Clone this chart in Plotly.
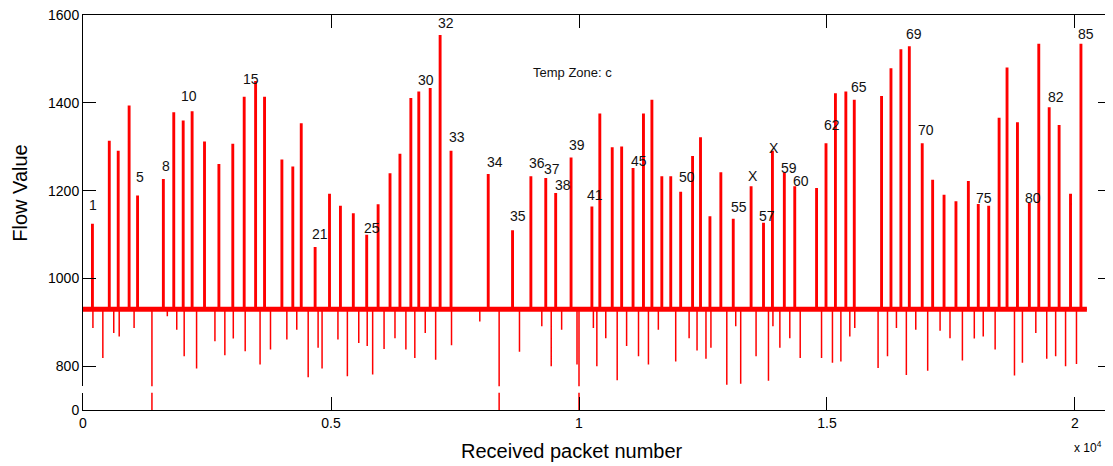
import plotly.graph_objects as go

# ---------------- data ----------------
BASE = 930          # resting flow level (noisy band centre)
X_END = 20240       # last received packet

spike_x = [190, 530, 710, 930, 1100, 1620, 1830, 2020, 2200, 2450,
           2740, 3020, 3250, 3480, 3660, 4010, 4230, 4400, 4680, 4970,
           5190, 5450, 5720, 5950, 6190, 6390, 6610, 6770, 7000, 7200,
           7420, 8170, 8660, 9030, 9330, 9530, 9840, 10260, 10420, 10670,
           10860, 11090, 11300, 11470, 11670, 11850, 12050, 12290, 12450, 12640,
           12860, 13110, 13470, 13720, 13900, 14140, 14350, 14790, 14980, 15170,
           15380, 15550, 16100, 16290, 16490, 16660, 16920, 17130, 17360, 17600,
           17850, 18050, 18260, 18470, 18630, 18840, 19080, 19270, 19480, 19680,
           19910, 20120]
spike_top = [1123, 1312, 1289, 1392, 1187, 1225, 1377, 1358, 1379, 1310,
             1259, 1305, 1412, 1448, 1412, 1269, 1253, 1352, 1070, 1191,
             1164, 1147, 1098, 1167, 1238, 1282, 1409, 1424, 1432, 1553,
             1289, 1236, 1108, 1231, 1227, 1193, 1274, 1162, 1374, 1297,
             1299, 1250, 1374, 1405, 1231, 1231, 1196, 1277, 1320, 1140,
             1240, 1134, 1208, 1125, 1289, 1240, 1208, 1204, 1306, 1420,
             1424, 1405, 1414, 1477, 1520, 1527, 1306, 1223, 1189, 1174,
             1220, 1168, 1164, 1364, 1479, 1354, 1170, 1533, 1388, 1348,
             1191, 1533]

dip_x = [200, 400, 620, 730, 1030, 1390, 1700, 1890, 2040, 2290,
         2660, 2860, 3030, 3270, 3570, 3780, 4110, 4310, 4540, 4740,
         4820, 5140, 5330, 5560, 5730, 5840, 6070, 6290, 6510, 6690,
         6900, 7110, 7430, 8000, 8390, 8800, 9250, 9440, 9650, 9960,
         10000, 10290, 10360, 10540, 10770, 10960, 11200, 11400, 11600, 11950,
         12220, 12380, 12560, 12660, 12980, 13160, 13260, 13570, 13820, 13910,
         14050, 14250, 14460, 14890, 15110, 15280, 15460, 15560, 16030, 16220,
         16400, 16600, 16790, 17030, 17280, 17480, 17730, 17970, 18150, 18390,
         18780, 18940, 19210, 19430, 19610, 19810, 20030]
dip_low = [887, 819, 876, 868, 887, 0, 914, 883, 823, 795,
           857, 825, 863, 834, 804, 838, 861, 883, 775, 842,
           795, 861, 777, 853, 846, 781, 839, 864, 838, 819,
           876, 815, 848, 902, 0, 833, 891, 800, 883, 804,
           0, 887, 800, 864, 768, 846, 823, 804, 883, 811,
           864, 836, 817, 842, 758, 891, 760, 823, 767, 891,
           842, 864, 819, 819, 808, 811, 868, 887, 796, 823,
           887, 780, 883, 790, 881, 864, 813, 863, 868, 838,
           779, 808, 876, 817, 823, 800, 805]

label_text = ["1", "5", "8", "10", "15", "21", "25", "30", "32", "33",
              "34", "35", "36", "37", "38", "39", "41", "45", "50", "55",
              "X", "57", "X", "59", "60", "62", "65", "69", "70", "75",
              "80", "82", "85"]
label_x = [202, 1149, 1673, 2143, 3387, 4778, 5833, 6909, 7312, 7534,
           8306, 8777, 9147, 9449, 9671, 9953, 10322, 11210, 12171, 13232,
           13501, 13783, 13931, 14240, 14476, 15107, 15652, 16754, 16996, 18171,
           19146, 19610, 20215]
label_y = [1168, 1232, 1257, 1416, 1454, 1101, 1115, 1451, 1581, 1323,
           1266, 1143, 1263, 1250, 1213, 1304, 1190, 1268, 1231, 1162,
           1234, 1143, 1298, 1251, 1222, 1350, 1437, 1557, 1337, 1184,
           1184, 1414, 1557]

x_tickvals = [0, 5000, 10000, 15000, 20000]
x_ticktext = ["0", "0.5", "1", "1.5", "2"]
y_tickvals = [800, 1000, 1200, 1400, 1600]

assert len(spike_x) == len(spike_top)
assert len(dip_x) == len(dip_low)
assert len(label_text) == len(label_x) == len(label_y)

# ---------------- build the signal path ----------------
events = [(x, "s", v) for x, v in zip(spike_x, spike_top)] + \
         [(x, "d", v) for x, v in zip(dip_x, dip_low)]
events.sort(key=lambda e: e[0])

px, py = [0], [BASE]
for x, kind, v in events:
    if kind == "s":
        px += [x - 14, x - 14, x + 14, x + 14]
        py += [BASE, v, v, BASE]
    else:
        px += [x, x, x]
        py += [BASE, v, BASE]
px.append(X_END)
py.append(BASE)

RED = "#ff0000"
FONT = "Liberation Sans, Arial, sans-serif"

fig = go.Figure()
# thick noisy resting band
fig.add_trace(go.Scatter(x=[0, X_END], y=[BASE, BASE], mode="lines",
                         line=dict(color=RED, width=5), xaxis="x", yaxis="y",
                         hoverinfo="skip", showlegend=False))
fig.add_trace(go.Scatter(x=px, y=py, mode="lines",
                         line=dict(color=RED, width=1.5, simplify=False),
                         xaxis="x", yaxis="y", showlegend=False))
# lower (broken) part of the axis
fig.add_trace(go.Scatter(x=px, y=py, mode="lines",
                         line=dict(color=RED, width=1.5, simplify=False),
                         xaxis="x2", yaxis="y2", showlegend=False))

XMAX = 20726
axis_common = dict(showline=True, linecolor="black", linewidth=1,
                   ticks="inside", ticklen=13, tickcolor="black",
                   showgrid=False, zeroline=False, ticklabeloverflow="allow",
                   tickfont=dict(family=FONT, size=14, color="black"))

# page body has an 8px default margin, so the figure margins are offset by it
fig.update_layout(
    width=1113, height=466,
    margin=dict(l=75, r=10, t=7, b=63.5, autoexpand=False),
    plot_bgcolor="white", paper_bgcolor="white",
    showlegend=False,
    xaxis=dict(anchor="y", side="top", range=[0, XMAX], tickvals=x_tickvals,
               showticklabels=False, **axis_common),
    xaxis2=dict(anchor="y2", side="bottom", range=[0, XMAX], matches="x",
                tickvals=x_tickvals, ticktext=x_ticktext, **axis_common),
    yaxis=dict(anchor="x", domain=[0.0602, 1], range=[754.5, 1600],
               tickvals=y_tickvals, mirror="ticks", **axis_common),
    yaxis2=dict(anchor="x2", domain=[0, 0.0435], range=[0, 100],
                tickvals=[0], ticktext=["0"], mirror=True,
                **{**axis_common, "ticks": ""}),
)

for t, x, y in zip(label_text, label_x, label_y):
    fig.add_annotation(x=x, y=y, xref="x", yref="y", text=t, showarrow=False,
                       xanchor="center", yanchor="middle",
                       font=dict(family=FONT, size=14, color="#111111"))

fig.add_annotation(x=9879, y=1468, xref="x", yref="y", text="Temp Zone: c",
                   showarrow=False, xanchor="center", yanchor="middle",
                   font=dict(family=FONT, size=13, color="#111111"))

fig.add_annotation(x=-0.0613, y=0.55, xref="paper", yref="paper", text="Flow Value",
                   textangle=-90, showarrow=False, xanchor="center", yanchor="middle",
                   font=dict(family=FONT, size=20, color="black"))
fig.add_annotation(x=0.4757, y=-0.105, xref="paper", yref="paper",
                   text="Received packet number", showarrow=False,
                   xanchor="center", yanchor="middle",
                   font=dict(family=FONT, size=20, color="black"))
fig.add_annotation(x=0.9776, y=-0.0948, xref="paper", yref="paper",
                   text="x 10<sup>4</sup>", showarrow=False,
                   xanchor="center", yanchor="middle",
                   font=dict(family=FONT, size=12, color="black"))

fig.write_html("out.html")
